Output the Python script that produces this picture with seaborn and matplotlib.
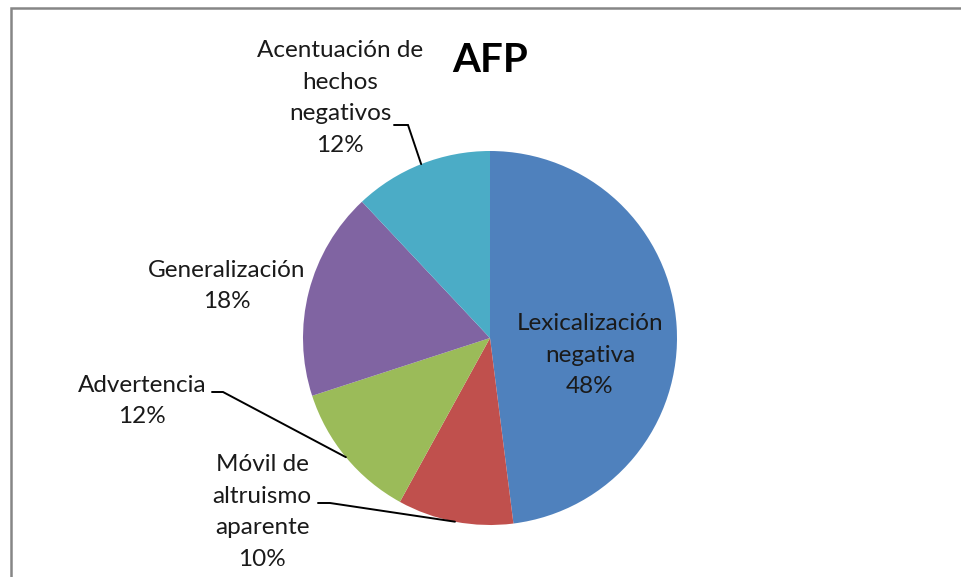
import numpy as np
import seaborn as sns
import matplotlib.pyplot as plt
from matplotlib.patches import Rectangle

# data, in drawing order (clockwise from 12 o'clock)
categories = ["Lexicalización\nnegativa", "Móvil de\naltruismo\naparente", "Advertencia",
              "Generalización", "Acentuación de\nhechos\nnegativos"]
shares = [48, 10, 12, 18, 12]
slice_colors = ["#4F81BD", "#C0504D", "#9BBB59", "#8064A2", "#4BACC6"]

W, H = 961, 577

sns.set_theme(style="white")
plt.rcParams['font.family'] = ['Lato', 'DejaVu Sans']

fig = plt.figure(figsize=(W / 100, H / 100), dpi=100)
ax = fig.add_axes([0, 0, 1, 1])

cx, cy, r = 490, H - 338, 187
wedges, _ = ax.pie(shares, colors=sns.color_palette(slice_colors), startangle=90,
                   counterclock=False, center=(cx, cy), radius=r,
                   wedgeprops=dict(linewidth=0), frame=True)
ax.set_xlim(0, W)
ax.set_ylim(0, H)
ax.set_aspect('equal')
ax.axis('off')

# label placement in pixel coords (x, y from top), elbow of leader (x0, x1, y) or None
label_pos = [(590, 355), (262, 512), (142, 401), (227, 286), (340, 98)]
leaders = [None, (318, 330, 503), (212, 223, 392), None, (394, 408, 125)]

total = sum(shares)
for w, cat, val, (lx, ly), ld in zip(wedges, categories, shares, label_pos, leaders):
    ax.text(lx, H - ly, f"{cat}\n{round(100 * val / total)}%", ha='center', va='center',
            fontsize=17.5, color='#1a1a1a', linespacing=1.63)
    if ld is not None:
        mid = np.deg2rad((w.theta1 + w.theta2) / 2)
        ex, ey = cx + r * np.cos(mid), cy + r * np.sin(mid)
        x0, x1, yl = ld
        ax.plot([x0, x1, ex], [H - yl, H - yl, ey], color='black', lw=1.4,
                solid_joinstyle='miter')

ax.text(490, H - 61, "AFP", ha='center', va='center', fontsize=29,
        fontweight='bold', color='black')

# chart area border (only top and left visible)
fig.add_artist(Rectangle((11 / W, -0.1), 1.2, 1.1 - 8 / H, transform=fig.transFigure,
                         fill=False, edgecolor='#868686', lw=1.8, clip_on=False))

fig.savefig("out.png", dpi=100)
